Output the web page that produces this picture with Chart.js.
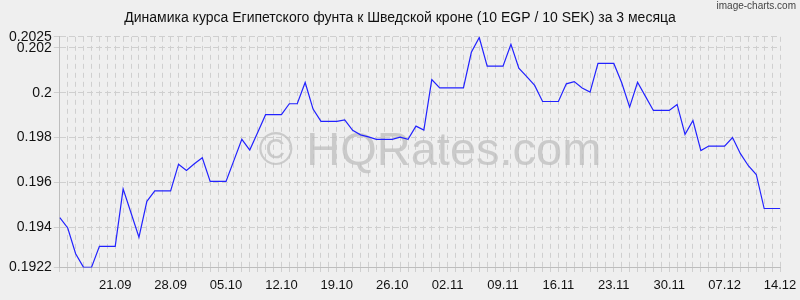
<!DOCTYPE html>
<html>
<head>
<meta charset="utf-8">
<script src="https://cdn.jsdelivr.net/npm/chart.js@4"></script>
<style>
  html, body { margin: 0; padding: 0; background: #efefef; }
  canvas { display: block; }
</style>
</head>
<body>
<canvas id="rateChart" width="800" height="300"></canvas>
<script>
// Dates: daily from 14.09 to 14.12
const dates = [
    '14.09','15.09','16.09','17.09','18.09','19.09','20.09','21.09','22.09','23.09',
    '24.09','25.09','26.09','27.09','28.09','29.09','30.09','01.10','02.10','03.10',
    '04.10','05.10','06.10','07.10','08.10','09.10','10.10','11.10','12.10','13.10',
    '14.10','15.10','16.10','17.10','18.10','19.10','20.10','21.10','22.10','23.10',
    '24.10','25.10','26.10','27.10','28.10','29.10','30.10','31.10','01.11','02.11',
    '03.11','04.11','05.11','06.11','07.11','08.11','09.11','10.11','11.11','12.11',
    '13.11','14.11','15.11','16.11','17.11','18.11','19.11','20.11','21.11','22.11',
    '23.11','24.11','25.11','26.11','27.11','28.11','29.11','30.11','01.12','02.12',
    '03.12','04.12','05.12','06.12','07.12','08.12','09.12','10.12','11.12','12.12',
    '13.12','14.12'
];

// EGP/SEK rate (10 EGP / 10 SEK)
const rates = [
    0.19442, 0.19396, 0.19281, 0.19220, 0.19220, 0.19314, 0.19314, 0.19314, 0.19571, 0.19463,
    0.19355, 0.19515, 0.19562, 0.19562, 0.19562, 0.19681, 0.19653, 0.19683, 0.19710, 0.19604,
    0.19604, 0.19604, 0.19698, 0.19792, 0.19744, 0.19823, 0.19902, 0.19902, 0.19902, 0.19951,
    0.19951, 0.20046, 0.19927, 0.19872, 0.19872, 0.19872, 0.19879, 0.19832, 0.19812, 0.19803,
    0.19792, 0.19792, 0.19792, 0.19802, 0.19792, 0.19851, 0.19833, 0.20059, 0.20022, 0.20022,
    0.20022, 0.20022, 0.20181, 0.20247, 0.20119, 0.20119, 0.20119, 0.20216, 0.20110, 0.20072,
    0.20033, 0.19961, 0.19961, 0.19961, 0.20040, 0.20050, 0.20021, 0.20003, 0.20131, 0.20131,
    0.20131, 0.20045, 0.19936, 0.20047, 0.19984, 0.19921, 0.19921, 0.19921, 0.19948, 0.19814,
    0.19876, 0.19742, 0.19762, 0.19762, 0.19762, 0.19800, 0.19728, 0.19674, 0.19635, 0.19483,
    0.19483, 0.19483
];

// Tick labels
const xTickLabels = ['21.09','28.09','05.10','12.10','19.10','26.10','02.11','09.11','16.11','23.11','30.11','07.12','14.12'];
const yTickValues = [0.1922, 0.194, 0.196, 0.198, 0.2, 0.202, 0.2025];

const fontFamily = '"Liberation Sans", Arial, sans-serif';
const gridColor = '#cfcfcf';

// Watermark, corner caption, title centred on the whole canvas
const watermarkPlugin = {
    id: 'watermark',
    afterLayout(chart) {
        if (chart.titleBlock) {
            chart.titleBlock.left = 0;
            chart.titleBlock.right = chart.width;
        }
    },
    beforeDatasetsDraw(chart) {
        const ctx = chart.ctx;
        ctx.save();
        ctx.font = '47px ' + fontFamily;
        ctx.fillStyle = 'rgba(190, 190, 190, 0.75)';
        ctx.textAlign = 'center';
        ctx.textBaseline = 'middle';
        ctx.fillText('\u00a9 HQRates.com', 430, 152);
        ctx.restore();
    },
    afterDraw(chart) {
        const ctx = chart.ctx;
        ctx.save();
        ctx.font = '10px ' + fontFamily;
        ctx.fillStyle = '#444';
        ctx.textAlign = 'right';
        ctx.textBaseline = 'middle';
        ctx.fillText('image-charts.com', 796, 6);
        ctx.restore();
    }
};

const ctx = document.getElementById('rateChart');
new Chart(ctx, {
    type: 'line',
    data: {
        labels: dates,
        datasets: [{
            data: rates,
            borderColor: '#2222ff',
            borderWidth: 1.2,
            pointRadius: 0,
            tension: 0,
            fill: false
        }]
    },
    options: {
        responsive: false,
        animation: false,
        layout: { padding: { left: 7, right: 20, top: 0, bottom: 5 } },
        plugins: {
            legend: { display: false },
            tooltip: { enabled: false },
            title: {
                display: true,
                text: 'Динамика курса Египетского фунта к Шведской кроне (10 EGP / 10 SEK) за 3 месяца',
                color: '#111',
                font: { family: fontFamily, size: 14, weight: 'normal' },
                padding: { top: 10, bottom: 10 }
            }
        },
        scales: {
            x: {
                offset: false,
                grid: {
                    color: gridColor,
                    lineWidth: 1,
                    drawTicks: true,
                    tickLength: 8,
                    tickBorderDash: [4, 4]
                },
                border: { display: true, color: '#bdbdbd', dash: [5, 4] },
                ticks: {
                    autoSkip: false,
                    maxRotation: 0,
                    padding: 2,
                    color: '#111',
                    font: { family: fontFamily, size: 13 },
                    callback: function(value, index) {
                        const lbl = dates[index];
                        return xTickLabels.includes(lbl) ? lbl : '';
                    }
                }
            },
            y: {
                min: 0.1922,
                max: 0.2025,
                afterBuildTicks: function(axis) {
                    axis.ticks = yTickValues.map(v => ({ value: v }));
                },
                grid: {
                    color: gridColor,
                    lineWidth: 1,
                    drawTicks: true,
                    tickLength: 6
                },
                border: { display: true, color: '#bdbdbd', dash: [6, 3] },
                ticks: {
                    padding: 2,
                    color: '#111',
                    font: { family: fontFamily, size: 14 },
                    callback: function(value) {
                        return String(value);
                    }
                }
            }
        }
    },
    plugins: [watermarkPlugin]
});
</script>
</body>
</html>
